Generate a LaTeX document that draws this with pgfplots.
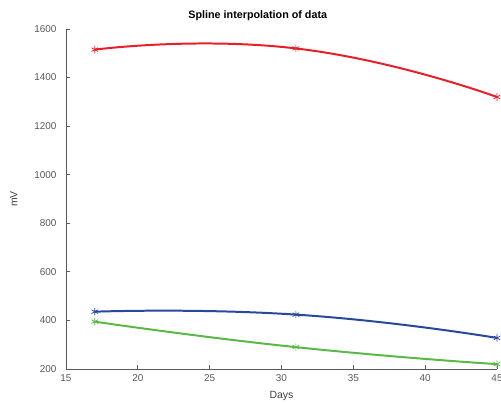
\documentclass[border=0pt]{standalone}
\usepackage{pgfplots}
\pgfplotsset{compat=1.18}
\usepackage{fontspec}
\setmainfont{Liberation Sans}
\definecolor{axgray}{RGB}{90,90,90}
\definecolor{lred}{RGB}{232,30,40}
\definecolor{lblue}{RGB}{40,72,155}
\definecolor{lgreen}{RGB}{90,185,70}
\begin{document}
\begin{tikzpicture}
\useasboundingbox (-66bp,-34bp) rectangle (435bp,369bp);
\begin{axis}[
  at={(0,0)}, anchor=south west,
  scale only axis, width=431bp, height=340bp,
  xmin=15, xmax=45, ymin=200, ymax=1600,
  xtick={15,20,...,45}, ytick={200,400,...,1600},
  axis x line*=bottom, axis y line*=left,
  axis line style={axgray, line width=0.8pt},
  tick style={axgray, line width=0.8pt},
  major tick length=4bp, tick align=inside,
  /pgf/number format/assume math mode=true,
  /pgf/number format/set thousands separator={},
  ticklabel style={font=\fontsize{10}{12}\selectfont, text=axgray},
  yticklabel style={xshift=-6bp},
  xticklabel style={yshift=-2bp},
  title={\textbf{Spline interpolation of data}},
  title style={at={(0.445,1)}, font=\fontsize{10.8}{12}\selectfont, yshift=-1bp},
  xlabel={Days}, ylabel={mV},
  label style={font=\fontsize{10.5}{12}\selectfont, text=axgray!70!black},
  xlabel style={yshift=-3bp},
  ylabel style={yshift=10bp},
  clip=false,
  every axis plot/.append style={line width=2pt, smooth, tension=0.9, mark=asterisk, mark size=3.8bp, mark options={line width=0.7pt}},
]
\addplot[lred] coordinates {(17,1515) (31,1520) (45,1320)};
\addplot[lblue] coordinates {(17,436) (31,424) (45,328)};
\addplot[lgreen] coordinates {(17,395) (31,290) (45,220)};
\end{axis}
\end{tikzpicture}
\end{document}
